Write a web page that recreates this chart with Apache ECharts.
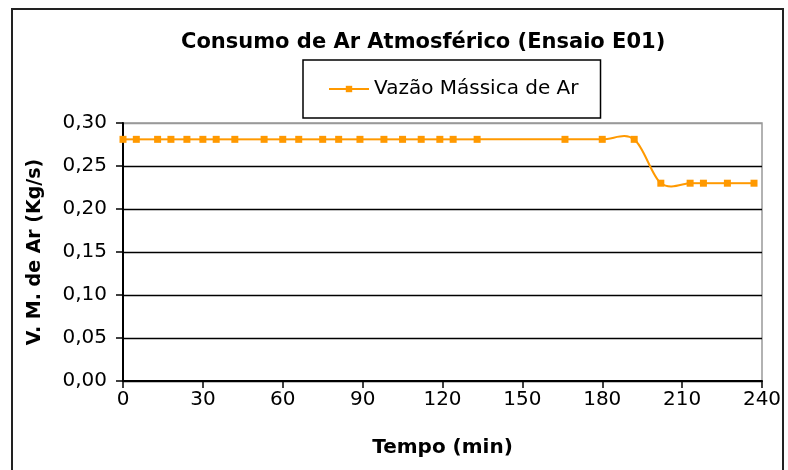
<!DOCTYPE html>
<html>
<head>
<meta charset="utf-8">
<script src="https://cdn.jsdelivr.net/npm/echarts@6/dist/echarts.min.js"></script>
<style>
  html, body { margin: 0; padding: 0; background: #fff; }
  #chart { width: 788px; height: 470px; }
</style>
</head>
<body>
<div id="chart"></div>
<script>
// Ensaio E01: tempo de ensaio (min) e vazão mássica de ar atmosférico (kg/s)
const tempoMin = [0, 5, 13, 18, 24, 30, 35, 42, 53, 60, 66, 75, 81, 89, 98, 105, 112, 119, 124, 133, 166, 180, 192, 202, 213, 218, 227, 237];
const vazaoAr = [0.281, 0.281, 0.281, 0.281, 0.281, 0.281, 0.281, 0.281, 0.281, 0.281,
                 0.281, 0.281, 0.281, 0.281, 0.281, 0.281, 0.281, 0.281, 0.281, 0.281,
                 0.281, 0.281, 0.281, 0.23, 0.23, 0.23, 0.23, 0.23];
const xTicks = [0, 30, 60, 90, 120, 150, 180, 210, 240];
const yTicks = [0, 0.05, 0.10, 0.15, 0.20, 0.25, 0.30];

const tituloGrafico = 'Consumo de Ar Atmosférico (Ensaio E01)';
const nomeSerie = 'Vazão Mássica de Ar';
const tituloX = 'Tempo (min)';
const tituloY = 'V. M. de Ar (Kg/s)';

const FONT = '"DejaVu Sans", "Liberation Sans", sans-serif';
const ORANGE = '#FF9900';

const chart = echarts.init(document.getElementById('chart'), null, { renderer: 'canvas' });

const pontos = tempoMin.map((t, i) => [t, vazaoAr[i]]);

// Smoothed curve through the points (Catmull-Rom style Bezier segments),
// positioned with the chart's own coordinate system.
function renderCurva(params, api) {
  if (params.dataIndex !== 0) return null;
  const P = pontos.map(p => api.coord(p));
  const n = P.length;
  const at = i => P[Math.max(0, Math.min(n - 1, i))];
  const children = [];
  for (let i = 0; i < n - 1; i++) {
    const p0 = at(i - 1), p1 = at(i), p2 = at(i + 1), p3 = at(i + 2);
    children.push({
      type: 'bezierCurve',
      shape: {
        x1: p1[0], y1: p1[1],
        x2: p2[0], y2: p2[1],
        cpx1: p1[0] + (p2[0] - p0[0]) / 6, cpy1: p1[1] + (p2[1] - p0[1]) / 6,
        cpx2: p2[0] - (p3[0] - p1[0]) / 6, cpy2: p2[1] - (p3[1] - p1[1]) / 6
      },
      style: { stroke: ORANGE, lineWidth: 2, fill: null }
    });
  }
  return { type: 'group', children };
}

chart.setOption({
  backgroundColor: '#ffffff',
  animation: false,
  graphic: [{
    type: 'rect',
    shape: { x: 12, y: 9, width: 771, height: 480 },
    style: { fill: 'none', stroke: '#222', lineWidth: 2 },
    silent: true,
    z: 100
  }],
  title: {
    text: tituloGrafico,
    left: 181,
    top: 32,
    padding: 0,
    textStyle: { fontFamily: FONT, fontSize: 21, fontWeight: 'bold', color: '#000' }
  },
  legend: {
    data: [nomeSerie],
    left: 303,
    top: 60,
    orient: 'horizontal',
    padding: [19, 22, 19, 25],
    itemWidth: 40,
    itemHeight: 8,
    itemGap: 5,
    borderColor: '#000',
    borderWidth: 1.5,
    lineStyle: { color: ORANGE, width: 2, opacity: 1 },
    textStyle: { fontFamily: FONT, fontSize: 20, color: '#000' }
  },
  grid: {
    left: 123,
    right: 26,
    top: 123,
    bottom: 89,
    show: true,
    borderColor: '#999',
    borderWidth: 1.5,
    containLabel: false
  },
  xAxis: {
    type: 'value',
    min: xTicks[0],
    max: xTicks[xTicks.length - 1],
    interval: xTicks[1] - xTicks[0],
    name: tituloX,
    nameLocation: 'middle',
    nameGap: 57,
    nameTextStyle: { fontFamily: FONT, fontSize: 20, fontWeight: 'bold', color: '#000' },
    axisLine: { show: true, lineStyle: { color: '#000', width: 2 } },
    axisTick: { show: true, inside: false, length: 7, lineStyle: { color: '#000', width: 1.5 } },
    axisLabel: { fontFamily: FONT, fontSize: 20, color: '#000', margin: 9 },
    splitLine: { show: false }
  },
  yAxis: {
    type: 'value',
    min: yTicks[0],
    max: yTicks[yTicks.length - 1],
    interval: yTicks[1] - yTicks[0],
    name: tituloY,
    nameLocation: 'middle',
    nameRotate: 90,
    nameGap: 78,
    nameTextStyle: { fontFamily: FONT, fontSize: 19, fontWeight: 'bold', color: '#000' },
    axisLine: { show: true, lineStyle: { color: '#000', width: 2 } },
    axisTick: { show: true, inside: false, length: 7, lineStyle: { color: '#000', width: 1.5 } },
    axisLabel: {
      fontFamily: FONT, fontSize: 20, color: '#000', margin: 16,
      formatter: v => v.toFixed(2).replace('.', ',')
    },
    splitLine: {
      show: true,
      lineStyle: { color: ['#000', '#000', '#000', '#000', '#000', '#000', '#999'], width: 1.3 }
    }
  },
  series: [{
    name: nomeSerie,
    type: 'line',
    data: pontos,
    symbol: 'rect',
    symbolSize: 7,
    showAllSymbol: true,
    lineStyle: { color: ORANGE, width: 2, opacity: 0 },
    itemStyle: { color: ORANGE, borderWidth: 0 },
    z: 5
  }, {
    name: nomeSerie,
    type: 'custom',
    data: pontos,
    encode: { x: 0, y: 1 },
    renderItem: renderCurva,
    silent: true,
    z: 4
  }]
});
</script>
</body>
</html>
